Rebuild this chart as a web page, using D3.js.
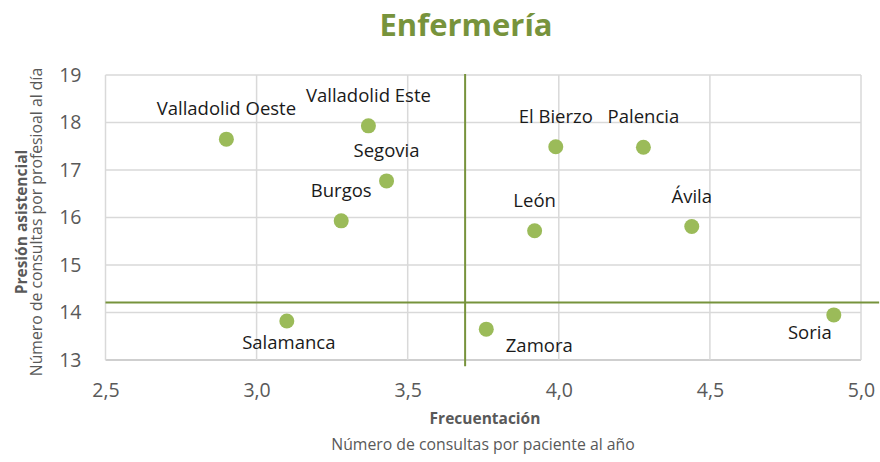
<!DOCTYPE html>
<html>
<head>
<meta charset="utf-8">
<script src="https://cdn.jsdelivr.net/npm/d3@7"></script>
<style>
  body { margin: 0; background: #fff; }
  text { font-family: "Open Sans", sans-serif; }
</style>
</head>
<body>
<script>
// areas y sus valores (frecuentacion, presion asistencial)
var areas = ["Valladolid Oeste", "Valladolid Este", "Segovia", "Burgos", "El Bierzo",
             "Palencia", "León", "Ávila", "Zamora", "Soria", "Salamanca"];
var frecuentacion = [2.90, 3.37, 3.43, 3.28, 3.99, 4.28, 3.92, 4.44, 3.76, 4.91, 3.10];
var presion = [17.65, 17.93, 16.77, 15.93, 17.49, 17.48, 15.72, 15.81, 13.65, 13.95, 13.82];

var xTicks = [2.5, 3.0, 3.5, 4.0, 4.5, 5.0];
var yTicks = [13, 14, 15, 16, 17, 18, 19];

// lineas de media
var mediaX = [3.69, 3.69], mediaXy = [19.02, 12.87];
var mediaY = [14.21, 14.21], mediaYx = [2.5, 5.06];

// desplazamiento de etiquetas (px) respecto al punto
var labelOffset = {
  "Zamora": [53, 23],
  "Soria": [-24, 24],
  "Salamanca": [2, 28]
};

var width = 880, height = 462;
var margin = {top: 75, right: 19, bottom: 102, left: 105.5};

var svg = d3.select("body").append("svg")
    .attr("width", width)
    .attr("height", height);

var x = d3.scaleLinear().domain([2.5, 5.0]).range([margin.left, width - margin.right]);
var y = d3.scaleLinear().domain([13, 19]).range([height - margin.bottom, margin.top]);

// titulo
svg.append("text")
    .attr("x", 466).attr("y", 36)
    .attr("text-anchor", "middle")
    .style("font-size", "31px").style("font-weight", "bold")
    .style("fill", "#77933C")
    .text("Enfermería");

// rejilla
svg.selectAll(".gy").data(yTicks).enter().append("line")
    .attr("x1", x(2.5)).attr("x2", x(5.0))
    .attr("y1", function(d) { return y(d); }).attr("y2", function(d) { return y(d); })
    .style("stroke", function(d) { return d == 13 ? "#BFBFBF" : "#D9D9D9"; })
    .style("stroke-width", 1.5);

svg.selectAll(".gx").data(xTicks).enter().append("line")
    .attr("y1", y(19)).attr("y2", y(13))
    .attr("x1", function(d) { return x(d); }).attr("x2", function(d) { return x(d); })
    .style("stroke", "#D9D9D9")
    .style("stroke-width", 1.5);

// ejes
var fmt = function(d) { return d3.format(".1f")(d).replace(".", ","); };

var xAxis = svg.append("g")
    .attr("transform", "translate(0," + (y(13) + 20) + ")")
    .call(d3.axisBottom(x).tickValues(xTicks).tickFormat(fmt).tickSize(0));
xAxis.select(".domain").remove();
xAxis.selectAll("text").style("font-size", "19.5px").style("fill", "#595959")
    .style("font-family", "Open Sans");

var yAxis = svg.append("g")
    .attr("transform", "translate(" + (margin.left - 21) + ",0)")
    .call(d3.axisLeft(y).tickValues(yTicks).tickFormat(d3.format("d")).tickSize(0));
yAxis.select(".domain").remove();
yAxis.selectAll("text").style("font-size", "19.5px").style("fill", "#595959")
    .style("font-family", "Open Sans");

// lineas de media
svg.append("line")
    .attr("x1", x(mediaX[0])).attr("x2", x(mediaX[1]))
    .attr("y1", y(mediaXy[0])).attr("y2", y(mediaXy[1]))
    .style("stroke", "#77933C").style("stroke-width", 2);

svg.append("line")
    .attr("x1", x(mediaYx[0])).attr("x2", x(mediaYx[1]))
    .attr("y1", y(mediaY[0])).attr("y2", y(mediaY[1]))
    .style("stroke", "#77933C").style("stroke-width", 2);

// puntos
var idx = d3.range(areas.length);

svg.selectAll("circle").data(idx).enter().append("circle")
    .attr("cx", function(i) { return x(frecuentacion[i]); })
    .attr("cy", function(i) { return y(presion[i]); })
    .attr("r", 7.5)
    .style("fill", "#9BBB59");

svg.selectAll(".lbl").data(idx).enter().append("text")
    .attr("class", "lbl")
    .attr("x", function(i) {
      var o = labelOffset[areas[i]] || [0, -24];
      return x(frecuentacion[i]) + o[0];
    })
    .attr("y", function(i) {
      var o = labelOffset[areas[i]] || [0, -24];
      return y(presion[i]) + o[1];
    })
    .attr("text-anchor", "middle")
    .style("font-size", "18.5px")
    .style("fill", "#1a1a1a")
    .text(function(i) { return areas[i]; });

// titulos de ejes
svg.append("text")
    .attr("x", 485).attr("y", 424)
    .attr("text-anchor", "middle")
    .style("font-size", "15.5px").style("font-weight", "bold").style("fill", "#595959")
    .text("Frecuentación");

svg.append("text")
    .attr("x", 483).attr("y", 450)
    .attr("text-anchor", "middle")
    .style("font-size", "15.8px").style("fill", "#595959")
    .text("Número de consultas por paciente al año");

svg.append("text")
    .attr("transform", "translate(27,222) rotate(-90)")
    .attr("text-anchor", "middle")
    .style("font-size", "15.5px").style("font-weight", "bold").style("fill", "#595959")
    .text("Presión asistencial");

svg.append("text")
    .attr("transform", "translate(42,222) rotate(-90)")
    .attr("text-anchor", "middle")
    .style("font-size", "15.8px").style("fill", "#595959")
    .text("Número de consultas por profesioal al día");
</script>
</body>
</html>
